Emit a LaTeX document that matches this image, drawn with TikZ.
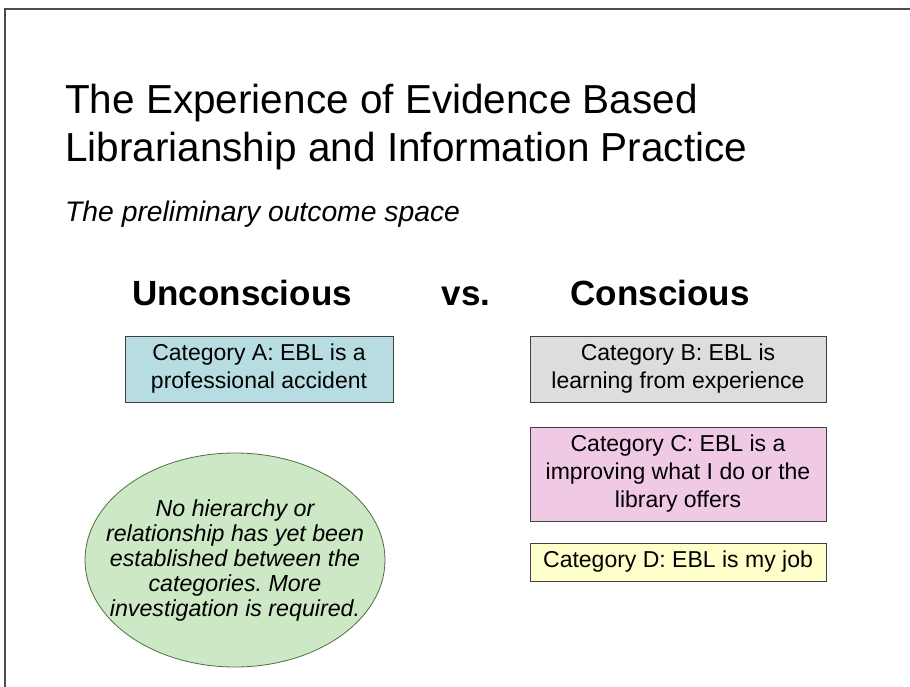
\documentclass[tikz,border=0pt]{standalone}
\usepackage{fontspec}
\setmainfont{Liberation Sans}
\usetikzlibrary{shapes.geometric}

\definecolor{catA}{RGB}{183,221,227}
\definecolor{catB}{RGB}{221,221,221}
\definecolor{catC}{RGB}{240,201,229}
\definecolor{catD}{RGB}{255,255,204}
\definecolor{notefill}{RGB}{205,232,197}
\definecolor{noteline}{RGB}{80,110,70}

\tikzset{
  catbox/.style={draw=black!75, line width=0.8pt, minimum width=#1, align=center,
    inner sep=0pt, font=\fontsize{23}{28}\selectfont},
  heading/.style={font=\fontsize{35}{40}\selectfont\bfseries},
}

\begin{document}
\frenchspacing
\begin{tikzpicture}[x=1pt,y=-1pt]
    \useasboundingbox (0,0) rectangle (910,687);
    \draw[black!70, line width=1.2pt] (910,9) -- (5,9) -- (5,687);

    \node[anchor=north west, inner sep=0pt, align=left, font=\fontsize{40.5}{48}\selectfont] (title) at (65,84)
        {The Experience of Evidence Based\\Librarianship and Information Practice};
    \node[anchor=base west, inner sep=0pt, font=\fontsize{28.3}{34}\selectfont\itshape] (subtitle) at (65,222)
        {The preliminary outcome space};

    \node[heading, anchor=base] (uncon) at (242,305) {Unconscious};
    \node[heading, anchor=base] (vs) at (466,305) {vs.};
    \node[heading, anchor=base] (con) at (660,305) {Conscious};

    \node[catbox=268pt, fill=catA, minimum height=66pt] (catA) at (259,369)
        {Category A: EBL is a\\professional accident};
    \node[catbox=296pt, fill=catB, minimum height=66pt] (catB) at (678,369)
        {Category B: EBL is\\learning from experience};
    \node[catbox=296pt, fill=catC, minimum height=94pt] (catC) at (678,474)
        {Category C: EBL is a\\improving what I do or the\\library offers};
    \node[catbox=296pt, fill=catD, minimum height=38pt] (catD) at (678,562)
        {Category D: EBL is my job};

    \node[ellipse, draw=noteline, fill=notefill, line width=0.8pt, minimum width=300pt, minimum height=214pt,
        inner sep=0pt] (note) at (235,560) {};
    \node[align=center, inner sep=0pt, font=\fontsize{23.2}{25}\selectfont\itshape] (notetext) at (note.center)
        {No hierarchy or\\relationship has yet been\\established between the\\categories. More\\investigation is required.};

\end{tikzpicture}
\end{document}
